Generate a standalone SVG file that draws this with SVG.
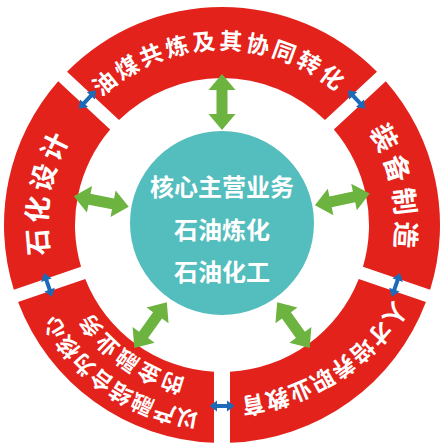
<svg xmlns="http://www.w3.org/2000/svg" xmlns:xlink="http://www.w3.org/1999/xlink" width="445" height="445" viewBox="0 0 445 445">
<style>
.seg{fill:#e3221c}
.t{fill:#ffffff;font-family:"Noto Sans CJK SC","Noto Sans CJK TC",sans-serif;font-weight:700}
.g{fill:#6cb43f}
.b{fill:#1c6bb8}
</style>
<defs>
<path id="ga" d="M0,0 L16,-13.5 L16,-5.5 L40,-5.5 L40,-13.5 L56,0 L40,13.5 L40,5.5 L16,5.5 L16,13.5 Z"/>
<path id="ba" d="M-12.5,0 L-5,-5.5 L-5,-2 L5,-2 L5,-5.5 L12.5,0 L5,5.5 L5,2 L-5,2 L-5,5.5 Z"/>
<path id="pTop" d="M48.56,197.53 A175.6,175.6 0 0 1 394.37,191.49"/>
<path id="pRight" d="M216.23,51.0 A174.1,174.1 0 0 1 286.94,386.54"/>
<path id="pLeft" d="M160.68,389.01 A175.1,175.1 0 0 1 223.53,49.91"/>
<path id="pBR" d="M410.63,107.37 A211.6,211.6 0 0 1 58.74,330.68"/>
<path id="pBL1" d="M356.75,356.96 A188.6,188.6 0 0 1 50.25,147.09"/>
<path id="pBL2" d="M332.86,337.02 A157.6,157.6 0 0 1 79.52,157.65"/>
</defs>
<rect width="445" height="445" fill="#ffffff"/>
<g id="seg-top">
<path class="seg" d="M67.06,71.64 A218,218 0 0 1 376.94,71.64 L324.97,120.09 A147,147 0 0 0 119.03,120.09 Z"/>
<text class="t" font-size="23" letter-spacing="3"><textPath href="#pTop" startOffset="50%" text-anchor="middle">油煤共炼及其协同转化</textPath></text>
</g>
<g id="seg-right">
<path class="seg" d="M385.79,81.13 A218,218 0 0 1 430.15,289.80 L362.97,266.67 A147,147 0 0 0 333.84,129.61 Z"/>
<text class="t" font-size="27" letter-spacing="4.8"><textPath href="#pRight" startOffset="50%" text-anchor="middle">装备制造</textPath></text>
</g>
<g id="seg-bottom-right">
<path class="seg" d="M425.92,302.09 A218,218 0 0 1 230.0,442.85 L230.0,371.78 A147,147 0 0 0 358.74,278.96 Z"/>
<text class="t" font-size="23" letter-spacing="0.7"><textPath href="#pBR" startOffset="50%" text-anchor="middle">人才培养职业教育</textPath></text>
</g>
<g id="seg-bottom-left">
<path class="seg" d="M214.0,442.85 A218,218 0 0 1 18.08,302.09 L85.26,278.96 A147,147 0 0 0 214.0,371.78 Z"/>
<text class="t" font-size="22" letter-spacing="0.7"><textPath href="#pBL1" startOffset="50%" text-anchor="middle">以产融结合为核心</textPath></text>
<text class="t" font-size="22" letter-spacing="2.1"><textPath href="#pBL2" startOffset="50%" text-anchor="middle">的金融业务</textPath></text>
</g>
<g id="seg-left">
<path class="seg" d="M13.85,289.80 A218,218 0 0 1 58.21,81.13 L110.16,129.61 A147,147 0 0 0 81.03,266.67 Z"/>
<text class="t" font-size="27" letter-spacing="3.9"><textPath href="#pLeft" startOffset="50%" text-anchor="middle">石化设计</textPath></text>
</g>
<g id="core">
<circle cx="222" cy="223" r="92" fill="#54bdbd"/>
<text class="t" font-size="24" text-anchor="middle"><tspan x="222" y="196">核心主营业务</tspan><tspan x="222" y="239">石油炼化</tspan><tspan x="222" y="281">石油化工</tspan></text>
</g>
<g id="connectors">
<use href="#ga" class="g" transform="translate(222,225) rotate(-90) translate(95,0)"/>
<use href="#ga" class="g" transform="translate(222,225) rotate(-12) translate(95,0)"/>
<use href="#ga" class="g" transform="translate(222,225) rotate(54.5) translate(95,0)"/>
<use href="#ga" class="g" transform="translate(222,225) rotate(125.5) translate(95,0)"/>
<use href="#ga" class="g" transform="translate(222,225) rotate(191) translate(95,0)"/>
<use href="#ba" class="b" transform="translate(222,225) rotate(-137) translate(184,0) rotate(90)"/>
<use href="#ba" class="b" transform="translate(222,225) rotate(-43) translate(184,0) rotate(90)"/>
<use href="#ba" class="b" transform="translate(222,225) rotate(19) translate(184,0) rotate(90)"/>
<use href="#ba" class="b" transform="translate(222,225) rotate(90) translate(181,0) rotate(90)"/>
<use href="#ba" class="b" transform="translate(222,225) rotate(161) translate(184,0) rotate(90)"/>
</g>
</svg>
